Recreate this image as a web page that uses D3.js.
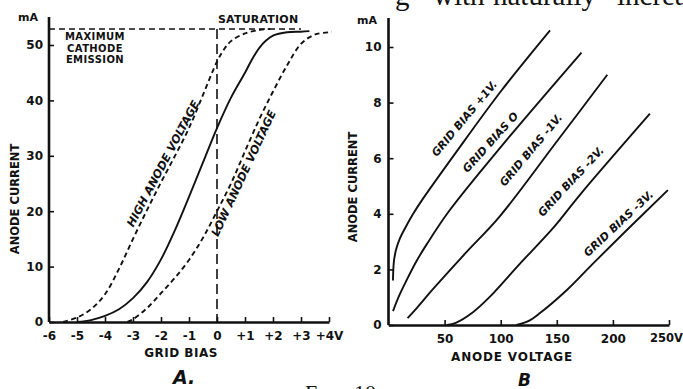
<!DOCTYPE html>
<html>
<head>
<meta charset="utf-8">
<script src="https://cdn.jsdelivr.net/npm/d3@7"></script>
<style>
body { margin: 0; background: #fff; }
svg { display: block; }
text { font-family: "DejaVu Sans", sans-serif; font-weight: bold; fill: #111; }
</style>
</head>
<body>
<svg></svg>
<script>
// ---- panel A : anode current against grid bias ----
const biasTicks = [-6, -5, -4, -3, -2, -1, 0, 1, 2, 3, 4];
const biasTickLabels = ["-6", "-5", "-4", "-3", "-2", "-1", "0", "+1", "+2", "+3", "+4V"];
const currentTicksA = [0, 10, 20, 30, 40, 50];
const maxEmission = 52.9;
const maxLineEnd = 3.0;

const highBias = [-5.5, -5, -4.5, -4, -3.5, -3, -2.5, -2, -1.5, -1, -0.5, 0, 0.25, 0.5, 1, 1.5, 1.9];
const highCurrent = [0, 0.8, 2.3, 5.0, 9.6, 15.0, 20.2, 25.2, 30, 35, 41, 47.0, 49.2, 50.7, 52.1, 52.7, 52.9];

const midBias = [-5, -4.5, -4, -3.5, -3, -2.5, -2, -1.5, -1, -0.5, 0, 0.5, 1, 1.25, 1.5, 1.75, 2, 2.5, 3, 3.3];
const midCurrent = [0, 0.35, 1.1, 2.3, 4.3, 7.2, 11.3, 16.6, 22.6, 28.8, 35, 40.5, 45, 47.4, 49.4, 50.8, 51.7, 52.3, 52.4, 52.5];

const lowBias = [-3.2, -3, -2.5, -2, -1.5, -1, -0.5, 0, 0.5, 1, 1.5, 2, 2.5, 3, 3.5, 4, 4.1];
const lowCurrent = [0, 0.5, 2.5, 5.2, 8, 11.2, 15.2, 20, 25, 30.8, 36.5, 41.6, 46.3, 50.2, 51.9, 52.3, 52.4];

const curveNamesA = ["HIGH ANODE VOLTAGE", "LOW ANODE VOLTAGE"];
const curveLabelBiasA = [-2.99, 0.04];
const curveLabelCurrentA = [17.0, 15.3];

// ---- panel B : anode current against anode voltage ----
const voltTicks = [50, 100, 150, 200, 250];
const voltTickLabels = ["50", "100", "150", "200", "250V"];
const currentTicksB = [0, 2, 4, 6, 8, 10];

const plus1Volts = [4, 4.3, 5, 7, 10, 15, 22, 30, 60, 100, 144];
const plus1Current = [1.6, 2.0, 2.35, 2.75, 3.1, 3.5, 4.0, 4.5, 6.2, 8.4, 10.6];
const zeroVolts = [4, 10, 16, 25, 34, 54, 100, 172];
const zeroCurrent = [0.5, 1.1, 1.6, 2.3, 2.9, 4.1, 6.4, 9.8];
const minus1Volts = [17, 25, 39, 69, 99, 150, 195];
const minus1Current = [0.25, 0.6, 1.26, 2.6, 3.9, 6.6, 9.0];
const minus2Volts = [52, 60, 75, 90, 117, 147, 171, 233];
const minus2Current = [0, 0.08, 0.45, 1.0, 2.2, 3.5, 4.7, 7.6];
const minus3Volts = [114, 125, 135, 159, 182, 212, 249];
const minus3Current = [0, 0.15, 0.43, 1.26, 2.2, 3.4, 4.85];

const curveNamesB = ["GRID BIAS +1V.", "GRID BIAS O", "GRID BIAS -1V.", "GRID BIAS -2V.", "GRID BIAS -3V."];
const curveLabelVoltsB = [42.9, 70.5, 103.6, 137.5, 177.7];
const curveLabelCurrentB = [6.03, 5.46, 4.96, 3.88, 2.44];
const curveLabelAngleB = [-50, -48, -50, -47, -43];

// cropped printed lines of the book page
const pageWords = ["g", "with", "naturally", "increas"];

const width = 683, height = 389;
const svg = d3.select("svg").attr("width", width).attr("height", height);

function drawCurve(g, x, y, xs, ys, dash) {
    g.append("path")
        .datum(d3.zip(xs, ys))
        .attr("d", d3.line().x(d => x(d[0])).y(d => y(d[1])).curve(d3.curveCatmullRom.alpha(0.5)))
        .attr("fill", "none")
        .attr("stroke", "#111")
        .attr("stroke-width", 1.9)
        .attr("stroke-dasharray", dash);
}

function styleAxis(g) {
    g.attr("font-size", 12).attr("font-family", null);
    g.select(".domain").attr("stroke", "#111").attr("stroke-width", 2.6);
    g.selectAll(".tick line").attr("stroke", "#111").attr("stroke-width", 1.6);
}

// ---------- A ----------
let xA = d3.scaleLinear().domain([-6, 4]).range([49, 329]);
let yA = d3.scaleLinear().domain([0, 50]).range([322, 45]);
let gA = svg.append("g");

gA.append("g")
    .attr("transform", `translate(0,${yA(0)})`)
    .call(d3.axisBottom(xA).tickValues(biasTicks)
        .tickFormat((d, i) => biasTickLabels[i])
        .tickSizeInner(-5).tickSizeOuter(0).tickPadding(9))
    .call(styleAxis);

gA.append("g")
    .attr("transform", `translate(${xA(-6)},0)`)
    .call(d3.axisLeft(yA).tickValues(currentTicksA)
        .tickSizeInner(-5).tickSizeOuter(0).tickPadding(6))
    .call(styleAxis)
    .select(".domain").attr("d", `M0,${yA(0)}V17`);

// saturation guides
gA.append("line")
    .attr("x1", xA(-6)).attr("x2", xA(maxLineEnd))
    .attr("y1", yA(maxEmission)).attr("y2", yA(maxEmission))
    .attr("stroke", "#111").attr("stroke-width", 1.6).attr("stroke-dasharray", "6,4");
gA.append("line")
    .attr("x1", xA(0)).attr("x2", xA(0))
    .attr("y1", yA(maxEmission)).attr("y2", yA(0))
    .attr("stroke", "#111").attr("stroke-width", 1.6).attr("stroke-dasharray", "10,5");

drawCurve(gA, xA, yA, highBias, highCurrent, "5,3.5");
drawCurve(gA, xA, yA, midBias, midCurrent, null);
drawCurve(gA, xA, yA, lowBias, lowCurrent, "5,3.5");

gA.selectAll(".clabel")
    .data(curveNamesA)
    .enter()
    .append("text")
    .attr("class", "clabel")
    .attr("transform", (d, i) => `translate(${xA(curveLabelBiasA[i])},${yA(curveLabelCurrentA[i])}) rotate(${i ? -65 : -62})`)
    .style("font-size", "11.3px")
    .style("font-style", "oblique")
    .text(d => d);

gA.append("text").attr("x", 18).attr("y", 21).style("font-size", "11px").text("mA");
gA.append("text").attr("x", 218).attr("y", 23).style("font-size", "11px").style("letter-spacing", "0.2px").text("SATURATION");
gA.selectAll(".maxlab")
    .data(["MAXIMUM", "CATHODE", "EMISSION"])
    .enter()
    .append("text")
    .attr("x", 95).attr("y", (d, i) => 40 + i * 11.5)
    .attr("text-anchor", "middle")
    .style("font-size", "10px")
    .style("letter-spacing", "0.4px")
    .text(d => d);

gA.append("text")
    .attr("transform", "translate(19,199) rotate(-90)")
    .attr("text-anchor", "middle")
    .style("font-size", "11.5px")
    .text("ANODE CURRENT");
gA.append("text")
    .attr("x", 181).attr("y", 357)
    .attr("text-anchor", "middle")
    .style("font-size", "12px").style("letter-spacing", "0.5px")
    .text("GRID BIAS");
gA.append("text")
    .attr("x", 173).attr("y", 384)
    .style("font-size", "19px").style("font-style", "oblique")
    .text("A.");

// ---------- B ----------
let xB = d3.scaleLinear().domain([0, 250]).range([388.5, 669]);
let yB = d3.scaleLinear().domain([0, 10]).range([325, 47]);
let gB = svg.append("g");

gB.append("g")
    .attr("transform", `translate(0,${yB(0)})`)
    .call(d3.axisBottom(xB).tickValues(voltTicks)
        .tickFormat((d, i) => voltTickLabels[i])
        .tickSizeInner(-5).tickSizeOuter(0).tickPadding(9))
    .call(styleAxis)
    .selectAll(".tick text")
    .attr("dx", (d, i) => i === voltTicks.length - 1 ? -3 : 0)
    .style("font-size", (d, i) => i === voltTicks.length - 1 ? "11.5px" : null);

gB.append("g")
    .attr("transform", `translate(${xB(0)},0)`)
    .call(d3.axisLeft(yB).tickValues(currentTicksB)
        .tickSizeInner(-5).tickSizeOuter(0).tickPadding(7))
    .call(styleAxis)
    .select(".domain").attr("d", `M0,${yB(0)}V18`);

drawCurve(gB, xB, yB, plus1Volts, plus1Current, null);
drawCurve(gB, xB, yB, zeroVolts, zeroCurrent, null);
drawCurve(gB, xB, yB, minus1Volts, minus1Current, null);
drawCurve(gB, xB, yB, minus2Volts, minus2Current, null);
drawCurve(gB, xB, yB, minus3Volts, minus3Current, null);

gB.selectAll(".clabel")
    .data(curveNamesB)
    .enter()
    .append("text")
    .attr("class", "clabel")
    .attr("transform", (d, i) => `translate(${xB(curveLabelVoltsB[i])},${yB(curveLabelCurrentB[i])}) rotate(${curveLabelAngleB[i]})`)
    .style("font-size", "11px")
    .style("font-style", "oblique")
    .text(d => d);

gB.append("text").attr("x", 357).attr("y", 24).style("font-size", "11px").text("mA");
gB.append("text")
    .attr("transform", "translate(357,187) rotate(-90)")
    .attr("text-anchor", "middle")
    .style("font-size", "11.5px")
    .text("ANODE CURRENT");
gB.append("text")
    .attr("x", 512).attr("y", 361)
    .attr("text-anchor", "middle")
    .style("font-size", "12px").style("letter-spacing", "0.8px")
    .text("ANODE VOLTAGE");
gB.append("text")
    .attr("x", 518).attr("y", 386)
    .style("font-size", "17px").style("font-style", "oblique")
    .text("B");

// cropped lines of the printed page above and below
svg.append("text")
    .attr("y", 5)
    .style("font-family", "'Liberation Serif', serif")
    .style("font-weight", "normal")
    .style("font-size", "29px")
    .selectAll("tspan")
    .data(pageWords)
    .enter()
    .append("tspan")
    .attr("x", (d, i) => [395, 433, 493, 617][i])
    .text(d => d);
svg.append("text")
    .attr("x", 305).attr("y", 400)
    .style("font-family", "'Liberation Serif', serif")
    .style("font-weight", "normal")
    .style("font-size", "22px")
    .style("font-variant", "small-caps")
    .style("word-spacing", "10px")
    .text("Fig. 10");
</script>
</body>
</html>
